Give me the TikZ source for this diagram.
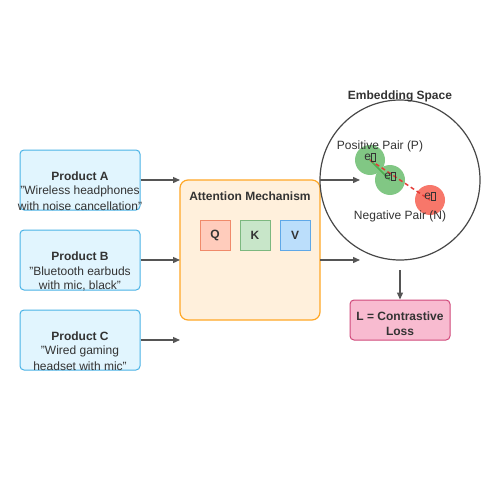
\documentclass[tikz,border=0pt]{standalone}
\usepackage{fontspec}
\setmainfont{Liberation Sans}
\usetikzlibrary{arrows.meta}
\definecolor{txt}{HTML}{333333}
\definecolor{arr}{HTML}{555555}
\definecolor{prodfill}{HTML}{E1F5FE}
\definecolor{prodline}{HTML}{4AB3E6}
\definecolor{attfill}{HTML}{FFF0DC}
\definecolor{attline}{HTML}{FFA726}
\definecolor{qfill}{HTML}{FFCCBC}
\definecolor{qline}{HTML}{F08A6A}
\definecolor{kfill}{HTML}{C8E6C9}
\definecolor{kline}{HTML}{7CB87F}
\definecolor{vfill}{HTML}{BBDEFB}
\definecolor{vline}{HTML}{5FA8E8}
\definecolor{lossfill}{HTML}{F8BBD0}
\definecolor{lossline}{HTML}{D0497A}
\definecolor{gdot}{HTML}{81C784}
\definecolor{rdot}{HTML}{F7776A}
\definecolor{gline}{HTML}{4CAF50}
\definecolor{rline}{HTML}{E53935}
\newcommand{\tofu}{{\fboxsep=0pt\fboxrule=0.4pt\fbox{\rule{0pt}{7pt}\hspace{4pt}}}}
\begin{document}
\begin{tikzpicture}[x=1pt,y=-1pt,
  every node/.style={text=txt,font=\fontsize{12}{15}\selectfont},
  prod/.style={draw=prodline,fill=prodfill,rounded corners=4pt,line width=1pt,minimum width=120pt,minimum height=60pt,inner sep=0pt},
  att/.style={draw=attline,fill=attfill,rounded corners=8pt,line width=1.2pt,minimum width=140pt,minimum height=140pt,inner sep=0pt},
  qkv/.style={line width=1pt,minimum width=30pt,minimum height=30pt,inner sep=0pt,font=\fontsize{12}{15}\selectfont\bfseries},
  loss/.style={draw=lossline,fill=lossfill,rounded corners=4pt,line width=1pt,minimum width=100pt,minimum height=40pt,inner sep=0pt},
  conn/.style={draw=arr,line width=1.3pt,-{Triangle[length=7pt,width=6pt]}},
  dot/.style={circle,minimum size=30pt,inner sep=0pt},
  lbl/.style={inner sep=0pt},
  bold/.style={inner sep=0pt,font=\fontsize{12}{15}\selectfont\bfseries}
]
\useasboundingbox[fill=white] (0,0) rectangle (500,500);
% product boxes
\node[prod] (pa) at (80,180) {};
\node[prod] (pb) at (80,260) {};
\node[prod] (pc) at (80,340) {};
\node[bold] at (80,176) {Product A};
\node[lbl] at (80,191) {"Wireless headphones};
\node[lbl] at (80,206) {with noise cancellation"};
\node[bold] at (80,256) {Product B};
\node[lbl] at (80,271) {"Bluetooth earbuds};
\node[lbl] at (80,286) {with mic, black"};
\node[bold] at (80,336) {Product C};
\node[lbl] at (80,351) {"Wired gaming};
\node[lbl] at (80,366) {headset with mic"};
% attention
\node[att] (att) at (250,250) {};
\node[bold] at (250,196) {Attention Mechanism};
\node[qkv,draw=qline,fill=qfill] (q) at (215,235) {Q};
\node[qkv,draw=kline,fill=kfill] (k) at (255,235) {K};
\node[qkv,draw=vline,fill=vfill] (v) at (295,235) {V};
% arrows in
\coordinate (a1) at (180,180);
\coordinate (a2) at (180,260);
\coordinate (a3) at (180,340);
\draw[conn] (pa.east |- a1) -- (a1);
\draw[conn] (pb.east |- a2) -- (a2);
\draw[conn] (pc.east |- a3) -- (a3);
% embedding space
\node[circle,draw=txt!90,line width=1.2pt,minimum size=160pt,inner sep=0pt] (emb) at (400,180) {};
\node[bold] at (400,96) {Embedding Space};
\coordinate (o1) at (320,180);
\coordinate (o2) at (320,260);
\coordinate (t1) at (360,180);
\coordinate (t2) at (360,260);
\draw[conn] (o1) -- (t1);
\draw[conn] (o2) -- (t2);
\node[dot,fill=gdot] (e1) at (370,160) {};
\node[dot,fill=gdot] (e2) at (390,180) {};
\node[dot,fill=rdot] (e3) at (430,200) {};
\draw[gline,line width=1.5pt] (e1.center) -- (e2.center);
\draw[rline,line width=1.5pt,dash pattern=on 4pt off 3pt] (e1.center) -- (e3.center);
\node[lbl] at (370,157) {e\tofu};
\node[lbl] at (390,176) {e\tofu};
\node[lbl] at (430,196) {e\tofu};
\node[lbl] at (380,146) {Positive Pair (P)};
\node[lbl] at (400,216) {Negative Pair (N)};
% loss
\node[loss] (loss) at (400,320) {};
\node[bold] at (400,316) {L = Contrastive};
\node[bold] at (400,331) {Loss};
\coordinate (d1) at (400,270);
\draw[conn] (d1) -- (loss.north);
\end{tikzpicture}
\end{document}
